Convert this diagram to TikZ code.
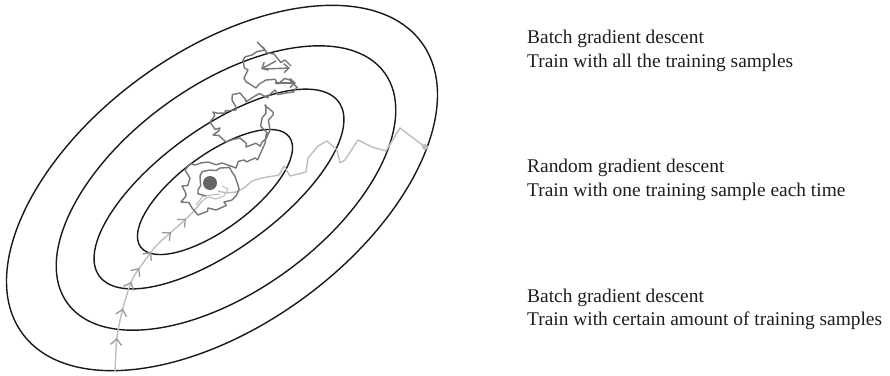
\documentclass[tikz,border=0pt]{standalone}
\usepackage{fontspec}
\setmainfont{Liberation Serif}
\usetikzlibrary{decorations.pathmorphing,decorations.markings,arrows.meta}
\definecolor{darkp}{HTML}{777777}
\definecolor{lightp}{HTML}{BEBEBE}
\definecolor{arrowp}{HTML}{999999}
\definecolor{dotc}{HTML}{666666}
\definecolor{txt}{HTML}{1E1E1E}
\begin{document}
\begin{tikzpicture}[x=1pt,y=-1pt,
  ell/.style={line width=1.4pt, draw=black!90},
  darkpath/.style={draw=darkp, line width=1.4pt, line join=round,
    decorate, decoration={random steps, segment length=6.5pt, amplitude=4.5pt}},
  darkarrow/.style={draw=darkp, line width=1.4pt, -{Straight Barb[length=5pt,width=9pt]}},
  lightpath/.style={draw=lightp, line width=1.4pt, line join=round},
  chev/.style={arrowp},
  lbl/.style={anchor=base west, inner sep=0pt, text=txt, font=\fontsize{19.4}{24}\selectfont}
]
\useasboundingbox (0,0) rectangle (890,375);
\fill[white] (0,0) rectangle (890,375);

% contour ellipses
\coordinate (c1) at (215,192);
\coordinate (c2) at (219,189);
\coordinate (c3) at (226,188);
\coordinate (c4) at (222,188);
\draw[ell, rotate around={36.5:(c1)}] (c1) ellipse [x radius=92.5pt, y radius=37pt];
\draw[ell, rotate around={36:(c2)}] (c2) ellipse [x radius=148pt, y radius=60.6pt];
\draw[ell, rotate around={36:(c3)}] (c3) ellipse [x radius=196pt, y radius=103pt];
\draw[ell, rotate around={36:(c4)}] (c4) ellipse [x radius=247pt, y radius=137pt];

% light zigzag path from the right
\coordinate (rs) at (425,147);
\draw[lightpath] (rs) -- (400,128) -- (386,151) -- (372,147) -- (358,140) -- (345,160)
  -- (340,163) -- (337,150) -- (327,141) -- (318,146) -- (308,158) -- (306,172)
  -- (290,176) -- (284,166) -- (279,175) -- (262,178) -- (252,181) -- (244,188)
  -- (236,192) -- (226,193) -- (218,191);
\fill[lightp] (rs) circle (3pt);

% light bottom path with chevrons
\coordinate (bs) at (115,372);
\tikzset{chevtip/.style={decorate, decoration={markings,
    mark=at position #1 with {\arrow[chev, line width=1.3pt]{Straight Barb[length=6pt,width=11pt]}}}}}
\draw[lightpath, postaction={chevtip=0.17}, postaction={chevtip=0.32},
    postaction={chevtip=0.46}, postaction={chevtip=0.54}, postaction={chevtip=0.64},
    postaction={chevtip=0.78}, postaction={chevtip=0.88}]
  plot[smooth] coordinates {(bs) (117,337) (123,308) (132,280) (143,263) (157,245)
    (177,227) (193,212) (202,201)};
\draw[lightpath, line width=1.1pt] (202,201) -- (208,197) -- (216,199) -- (224,196)
  -- (228,189) -- (222,186);
\draw[lightpath, line width=1.1pt] (196,205) -- (203,196) -- (212,195) -- (220,194);

% dark random walk (stochastic descent)
\pgfmathsetseed{11}
\draw[darkpath] (257,42) -- (265,50) -- (252,55) -- (243,60) -- (248,70) -- (244,78)
  -- (256,88) -- (266,80) -- (278,84) -- (290,80) -- (297,87) -- (286,93) -- (275,90)
  -- (268,98) -- (255,96) -- (246,100) -- (240,93) -- (232,100) -- (236,110)
  -- (225,113) -- (213,112) -- (210,122) -- (220,128) -- (213,135) -- (226,142)
  -- (240,138) -- (246,147) -- (262,142) -- (270,130) -- (273,112) -- (266,105)
  -- (262,118) -- (266,135) -- (262,150) -- (255,158) -- (244,160) -- (236,168)
  -- (222,163) -- (208,162) -- (195,165) -- (185,170) -- (190,178) -- (182,186)
  -- (186,196) -- (181,202) -- (192,208) -- (198,215) -- (208,208) -- (216,210)
  -- (224,202) -- (236,196) -- (238,185) -- (232,172) -- (220,168) -- (210,170)
  -- (200,176) -- (198,190) -- (206,196);
\draw[darkpath] (263,47) -- (274,54) -- (285,60) -- (291,66);
\draw[darkarrow] (264,69) -- (290,68);
\draw[darkarrow] (275,83) -- (296,83);
\draw[darkarrow] (276,61) -- (261,69);

% minimum
\coordinate (m) at (210,183);
\fill[dotc] (m) circle (7pt);

% labels
\node[lbl] (t1a) at (527,43) {Batch gradient descent};
\node[lbl] (t1b) at (527,67) {Train with all the training samples};
\node[lbl] (t2a) at (527,172) {Random gradient descent};
\node[lbl] (t2b) at (527,196) {Train with one training sample each time};
\node[lbl] (t3a) at (527,302) {Batch gradient descent};
\node[lbl] (t3b) at (527,325) {Train with certain amount of training samples};
\end{tikzpicture}
\end{document}
